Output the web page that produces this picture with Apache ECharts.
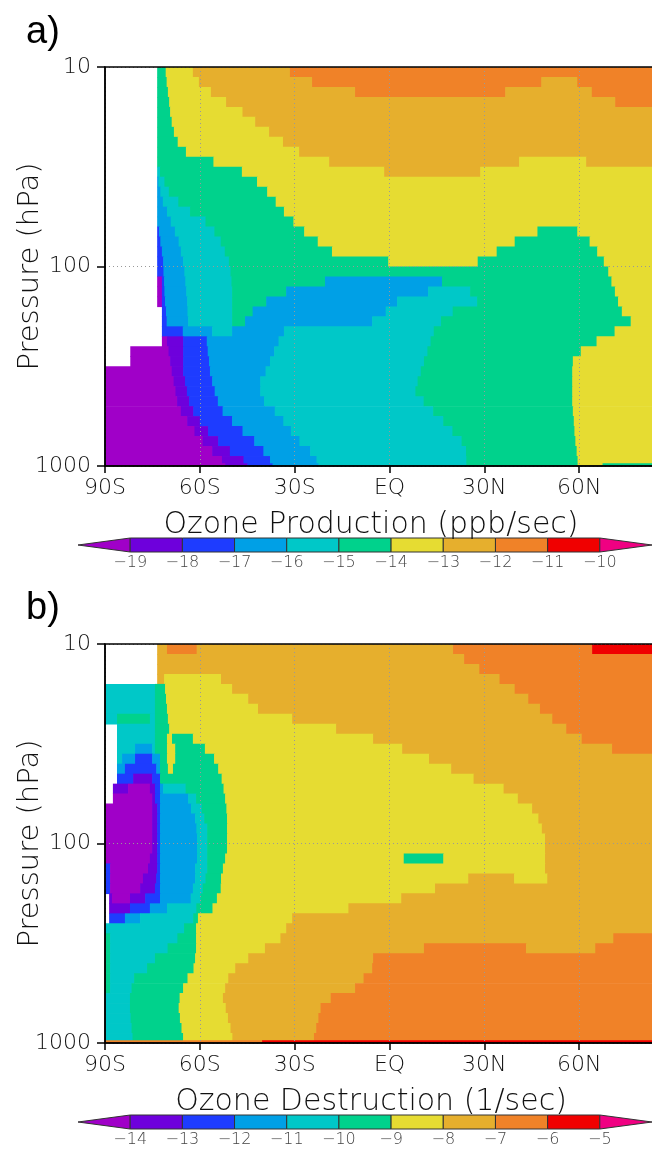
<!DOCTYPE html>
<html><head><meta charset="utf-8">
<script src="https://cdn.jsdelivr.net/npm/echarts@6/dist/echarts.min.js"></script>
<style>html,body{margin:0;padding:0;background:#fff}#c{width:652px;height:1151px}</style>
</head><body><div id="c"></div>
<script>
// pressure row edges (hPa), top to bottom
const pEdges = [10,11.22,12.59,14.13,15.85,17.78,19.95,22.39,25.12,28.18,31.62,35.48,39.81,44.67,50.12,56.23,63.1,70.79,79.43,89.13,100,112.2,125.9,141.3,158.5,177.8,199.5,223.9,251.2,281.8,316.2,354.8,398.1,446.7,501.2,562.3,631,707.9,794.3,891.3,970,1000];
const latTicks = [-90,-60,-30,0,30,60,90];
const latLabels = ['90S','60S','30S','EQ','30N','60N','90N'];
const bandColors = ['#a000c8','#6e00dc','#1e3cff','#00a0e6','#00c8c8','#00d28c','#e6dc32','#e6af2d','#f08228','#f00000','#f00082'];
const prodLevels = [-19,-18,-17,-16,-15,-14,-13,-12,-11,-10];
const destLevels = [-14,-13,-12,-11,-10,-9,-8,-7,-6,-5];

// each row: [latitude where a band starts, value (log10)] ; null = no data
const prodRows = [
[[-90,null],[-73.5,-14.5],[-70.8,-13.5],[-62.2,-12.5],[-31.5,-11.5]],
[[-90,null],[-73.5,-14.5],[-70.5,-13.5],[-60.3,-12.5],[-24.5,-11.5],[48,-12.5],[59.4,-11.5]],
[[-90,null],[-73.5,-14.5],[-70.1,-13.5],[-56.5,-12.5],[-10.9,-11.5],[36.6,-12.5],[64,-11.5]],
[[-90,null],[-73.5,-14.5],[-69.7,-13.5],[-51.7,-12.5],[71.4,-11.5]],
[[-90,null],[-73.5,-14.5],[-69.4,-13.5],[-46.5,-12.5]],
[[-90,null],[-73.5,-14.5],[-68.9,-13.5],[-42.5,-12.5]],
[[-90,null],[-73.5,-14.5],[-68.2,-13.5],[-38.1,-12.5]],
[[-90,null],[-73.5,-14.5],[-67,-13.5],[-33.7,-12.5]],
[[-90,null],[-73.5,-14.5],[-64.4,-13.5],[-28.6,-12.5]],
[[-90,null],[-73.5,-14.5],[-55.7,-13.5],[-19.1,-12.5],[41,-13.5],[62.2,-12.5]],
[[-90,null],[-73.5,-15.5],[-72.6,-14.5],[-46.7,-13.5],[-1.7,-12.5],[28.7,-13.5]],
[[-90,null],[-73.5,-16.5],[-73.1,-15.5],[-71.2,-14.5],[-41.9,-13.5]],
[[-90,null],[-73.5,-16.5],[-72.5,-15.5],[-69.8,-14.5],[-38.7,-13.5]],
[[-90,null],[-73.5,-16.5],[-71.7,-15.5],[-66.8,-14.5],[-36,-13.5]],
[[-90,null],[-73.5,-16.5],[-70.4,-15.5],[-63.1,-14.5],[-33.4,-13.5]],
[[-90,null],[-73.5,-16.5],[-69.2,-15.5],[-58.2,-14.5],[-30.4,-13.5]],
[[-90,null],[-73.5,-17.5],[-72.9,-16.5],[-67.9,-15.5],[-55.4,-14.5],[-27,-13.5],[46.8,-14.5],[59.4,-13.5]],
[[-90,null],[-73.5,-17.5],[-72.5,-16.5],[-66.7,-15.5],[-53.4,-14.5],[-22.7,-13.5],[39.6,-14.5],[63.3,-13.5]],
[[-90,null],[-73.5,-17.5],[-72,-16.5],[-66,-15.5],[-52.1,-14.5],[-18.2,-13.5],[33.9,-14.5],[65.7,-13.5]],
[[-90,null],[-73.5,-17.5],[-71.6,-16.5],[-65.3,-15.5],[-50.8,-14.5],[-0.4,-13.5],[27.9,-14.5],[67.8,-13.5]],
[[-90,null],[-73.5,-17.5],[-71.5,-16.5],[-64.9,-15.5],[-50.3,-14.5],[69.2,-13.5]],
[[-90,null],[-73.5,-19.5],[-72,-17.5],[-71.3,-16.5],[-64.6,-15.5],[-50,-14.5],[-20.4,-16.5],[16.6,-14.5],[70.2,-13.5]],
[[-90,null],[-73.5,-19.5],[-72,-17.5],[-71.2,-16.5],[-64.3,-15.5],[-49.8,-14.5],[-32.7,-16.5],[12.2,-15.5],[25.5,-14.5],[71.3,-13.5]],
[[-90,null],[-73.5,-19.5],[-72,-17.5],[-71,-16.5],[-64,-15.5],[-49.8,-14.5],[-39,-16.5],[2.4,-15.5],[27.7,-14.5],[72.3,-13.5]],
[[-90,null],[-72,-17.5],[-70.7,-16.5],[-63.9,-15.5],[-49.8,-14.5],[-43.3,-16.5],[-1.2,-15.5],[20,-14.5],[73.5,-13.5]],
[[-90,null],[-72,-17.5],[-70.5,-16.5],[-63.7,-15.5],[-49.8,-14.5],[-45.7,-16.5],[-5.5,-15.5],[16.3,-14.5],[76.3,-13.5]],
[[-90,null],[-72,-17.5],[-65.4,-16.5],[-56.1,-15.5],[-49.8,-16.5],[-33.4,-15.5],[14,-14.5],[71.2,-13.5]],
[[-90,null],[-72,-19.5],[-70.4,-18.5],[-65.3,-17.5],[-57.8,-16.5],[-35.1,-15.5],[13,-14.5],[65.5,-13.5]],
[[-90,null],[-82,-19.5],[-69.9,-18.5],[-65.3,-17.5],[-57.5,-16.5],[-36.5,-15.5],[12,-14.5],[60.5,-13.5]],
[[-90,null],[-82,-19.5],[-69.4,-18.5],[-65.3,-17.5],[-57.1,-16.5],[-37.8,-15.5],[10.9,-14.5],[58,-13.5]],
[[-90,-19.5],[-68.9,-18.5],[-65.3,-17.5],[-56.8,-16.5],[-39.2,-15.5],[9.9,-14.5],[57.8,-13.5]],
[[-90,-19.5],[-68.3,-18.5],[-64.7,-17.5],[-56.1,-16.5],[-40.9,-15.5],[8.9,-14.5],[57.8,-13.5]],
[[-90,-19.5],[-67.7,-18.5],[-64.1,-17.5],[-55.3,-16.5],[-40.9,-15.5],[8.2,-14.5],[57.8,-13.5]],
[[-90,-19.5],[-67.2,-18.5],[-63.4,-17.5],[-54.3,-16.5],[-39.7,-15.5],[10.8,-14.5],[57.8,-13.5]],
[[-90,-19.5],[-66,-18.5],[-62.1,-17.5],[-52.8,-16.5],[-36.3,-15.5],[13.8,-14.5],[58,-13.5]],
[[-90,-19.5],[-64,-18.5],[-60,-17.5],[-49.8,-16.5],[-33.6,-15.5],[17,-14.5],[58.3,-13.5]],
[[-90,-19.5],[-61.7,-18.5],[-57.4,-17.5],[-46.5,-16.5],[-31.2,-15.5],[19.9,-14.5],[58.5,-13.5]],
[[-90,-19.5],[-59.1,-18.5],[-54.2,-17.5],[-42.8,-16.5],[-28.5,-15.5],[22.8,-14.5],[58.8,-13.5]],
[[-90,-19.5],[-56.1,-18.5],[-50.5,-17.5],[-39.9,-16.5],[-25.1,-15.5],[24.2,-14.5],[59.2,-13.5]],
[[-90,-19.5],[-53,-18.5],[-46.2,-17.5],[-37.8,-16.5],[-23.1,-15.5],[24.3,-14.5],[59.5,-13.5]],
[[-90,-19.5],[-52,-18.5],[-45,-17.5],[-37,-16.5],[-22.5,-15.5],[24.3,-14.5],[59.5,-13.5],[67.4,-14.5]]
];

const destRows = [
[[-90,null],[-73.5,-7.5],[-70.4,-6.5],[-61,-7.5],[20.1,-6.5],[64.1,-5.5]],
[[-90,null],[-73.5,-7.5],[23.6,-6.5]],
[[-90,null],[-73.5,-7.5],[28.4,-6.5]],
[[-90,null],[-73.5,-7.5],[-71.3,-8.5],[-53.3,-7.5],[34.8,-6.5]],
[[-90,-10.5],[-74.2,-9.5],[-71,-8.5],[-49.8,-7.5],[39.6,-6.5]],
[[-90,-10.5],[-74.2,-9.5],[-70.7,-8.5],[-44.7,-7.5],[43.9,-6.5]],
[[-90,-10.5],[-74.2,-9.5],[-70.4,-8.5],[-41.6,-7.5],[47.6,-6.5]],
[[-90,-10.5],[-86.2,-9.5],[-75.8,-10.5],[-74.2,-9.5],[-70.1,-8.5],[-30.8,-7.5],[51.5,-6.5]],
[[-90,null],[-86.2,-10.5],[-74.2,-9.5],[-69.7,-8.5],[-16.9,-7.5],[55.9,-6.5]],
[[-90,null],[-86.2,-10.5],[-74.2,-9.5],[-70.4,-8.5],[-68.8,-9.5],[-62.2,-8.5],[-5.2,-7.5],[60.8,-6.5]],
[[-90,null],[-86.2,-10.5],[-80.5,-11.5],[-75.1,-10.5],[-74.2,-9.5],[-70.4,-8.5],[-67.8,-9.5],[-58.4,-8.5],[4,-7.5],[70.4,-6.5]],
[[-90,null],[-86.2,-10.5],[-84.6,-11.5],[-80.5,-12.5],[-75.1,-11.5],[-72.6,-9.5],[-70.4,-8.5],[-67.8,-9.5],[-55.5,-8.5],[12.5,-7.5]],
[[-90,null],[-86.2,-11.5],[-83.7,-12.5],[-73.8,-11.5],[-72.6,-9.5],[-70.1,-8.5],[-68.5,-9.5],[-54.2,-8.5],[19.5,-7.5]],
[[-90,null],[-86.2,-12.5],[-81.1,-13.5],[-75.1,-12.5],[-72.6,-9.5],[-53.1,-8.5],[26.6,-7.5]],
[[-90,null],[-87.5,-13.5],[-82.7,-14.5],[-75.8,-13.5],[-74.2,-12.5],[-72.6,-11.5],[-71.6,-10.5],[-64.5,-9.5],[-52.5,-8.5],[36.1,-7.5]],
[[-90,null],[-87.5,-14.5],[-75.1,-13.5],[-74.2,-12.5],[-72.6,-11.5],[-63.7,-10.5],[-61.2,-9.5],[-52,-8.5],[40.6,-7.5]],
[[-90,-14.5],[-75.1,-13.5],[-73.5,-12.5],[-72.6,-11.5],[-62.8,-10.5],[-59.4,-9.5],[-51.6,-8.5],[45.1,-7.5]],
[[-90,-14.5],[-75.1,-13.5],[-73.5,-12.5],[-72.6,-11.5],[-61.5,-10.5],[-58.6,-9.5],[-51.4,-8.5],[47.1,-7.5]],
[[-90,-14.5],[-75.1,-13.5],[-73.5,-12.5],[-72.6,-11.5],[-61.1,-10.5],[-57.7,-9.5],[-51.4,-8.5],[48.2,-7.5]],
[[-90,-14.5],[-75.1,-13.5],[-73.5,-12.5],[-72.6,-11.5],[-60.9,-10.5],[-57.7,-9.5],[-51.4,-8.5],[49.2,-7.5]],
[[-90,-14.5],[-75.1,-13.5],[-73.5,-12.5],[-72.6,-11.5],[-60.9,-10.5],[-57.7,-9.5],[-51.4,-8.5],[49.2,-7.5]],
[[-90,-14.5],[-75.8,-13.5],[-73.5,-12.5],[-72.6,-11.5],[-60.9,-10.5],[-57.7,-9.5],[-52,-8.5],[4.5,-9.5],[17,-8.5],[49.2,-7.5]],
[[-90,-12.5],[-88.4,-14.5],[-76.4,-13.5],[-73.5,-12.5],[-72.6,-11.5],[-61.5,-10.5],[-57.7,-9.5],[-52.7,-8.5],[49.2,-7.5]],
[[-90,-12.5],[-88.4,-14.5],[-78,-13.5],[-73.8,-12.5],[-72.6,-11.5],[-61.5,-10.5],[-58.2,-9.5],[-53.3,-8.5],[24.9,-7.5],[39.4,-8.5],[49.9,-7.5]],
[[-90,-12.5],[-88.4,-14.5],[-78.9,-13.5],[-74.2,-12.5],[-72.6,-11.5],[-62.2,-10.5],[-59.1,-9.5],[-53.4,-8.5],[14.4,-7.5]],
[[-90,null],[-88.7,-13.5],[-87.8,-14.5],[-82.1,-13.5],[-77.3,-12.5],[-72.6,-11.5],[-62.9,-10.5],[-59.8,-9.5],[-54.6,-8.5],[3.7,-7.5]],
[[-90,null],[-88.7,-13.5],[-82.1,-12.5],[-75.8,-11.5],[-70.4,-10.5],[-61.1,-9.5],[-56,-8.5],[-13,-7.5]],
[[-90,null],[-88.7,-12.5],[-83.7,-11.5],[-78.9,-10.5],[-62.1,-9.5],[-60.6,-8.5],[-30.8,-7.5]],
[[-90,-10.5],[-65,-9.5],[-61.2,-8.5],[-32.7,-7.5]],
[[-90,-9.5],[-88.4,-10.5],[-67.1,-9.5],[-61.2,-8.5],[-34.5,-7.5],[70.8,-6.5]],
[[-90,-9.5],[-88.4,-10.5],[-70.2,-9.5],[-61.2,-8.5],[-39.4,-7.5],[10.9,-6.5],[43.2,-7.5],[65.1,-6.5]],
[[-90,-9.5],[-88.4,-10.5],[-74.2,-9.5],[-61.5,-8.5],[-44.7,-7.5],[-5.2,-6.5]],
[[-90,-9.5],[-88.4,-10.5],[-76.7,-9.5],[-62,-8.5],[-48.8,-7.5],[-5.5,-6.5]],
[[-90,-9.5],[-88.4,-10.5],[-80.8,-9.5],[-63.9,-8.5],[-51,-7.5],[-8.2,-6.5]],
[[-90,-9.5],[-88.4,-10.5],[-81.6,-9.5],[-65.3,-8.5],[-52,-7.5],[-10.9,-6.5]],
[[-90,-10.5],[-82.1,-9.5],[-66.4,-8.5],[-52.7,-7.5],[-18.6,-6.5]],
[[-90,-10.5],[-82.1,-9.5],[-66.7,-8.5],[-51.8,-7.5],[-21.8,-6.5]],
[[-90,-10.5],[-81.9,-9.5],[-66.3,-8.5],[-51.1,-7.5],[-22.5,-6.5]],
[[-90,-10.5],[-81.6,-9.5],[-65.8,-8.5],[-50.3,-7.5],[-23.2,-6.5]],
[[-90,-10.5],[-81.3,-9.5],[-65.3,-8.5],[-49.7,-7.5],[-23.9,-6.5]],
[[-90,-6.5],[-40.3,-5.5]]
];

function cells(rows){
  const out=[];
  rows.forEach((row,i)=>{
    for(let k=0;k<row.length;k++){
      const v=row[k][1]; if(v===null) continue;
      const hi = k+1<row.length ? row[k+1][0] : 90;
      out.push([row[k][0], hi, pEdges[i], pEdges[i+1], v]);
    }
  });
  return out;
}
function barItems(levels){
  const out=[]; const n=levels.length;
  for(let k=0;k<=n;k++){
    const lo = k===0 ? levels[0]-1 : levels[k-1];
    const hi = k===n ? levels[n-1]+1 : levels[k];
    out.push([lo, hi, 0, 1, (lo+hi)/2, k===0?0:(k===n?2:1)]);
  }
  return out;
}
function pieces(levels){
  const p=[{lt:levels[0], color:bandColors[0]}];
  for(let k=1;k<levels.length;k++) p.push({gte:levels[k-1], lt:levels[k], color:bandColors[k]});
  p.push({gte:levels[levels.length-1], color:bandColors[levels.length]});
  return p;
}
function renderCell(params, api){
  const a=api.coord([api.value(0), api.value(2)]);
  const b=api.coord([api.value(1), api.value(3)]);
  return {type:'rect', shape:{x:a[0], y:a[1], width:b[0]-a[0]+0.7, height:b[1]-a[1]+0.7}, style:{fill:api.visual('color')}};
}
function renderBar(params, api){
  const p0=api.coord([api.value(0),1]), p1=api.coord([api.value(1),0]);
  const s=api.value(5);
  const style={fill:api.visual('color'), stroke:'#333', lineWidth:1};
  if(s===1) return {type:'rect', shape:{x:p0[0],y:p0[1],width:p1[0]-p0[0],height:p1[1]-p0[1]}, style};
  const my=(p0[1]+p1[1])/2;
  if(s===0) return {type:'polygon', shape:{points:[[p0[0],my],[p1[0],p0[1]],[p1[0],p1[1]]]}, style};
  return {type:'polygon', shape:{points:[[p0[0],p0[1]],[p1[0],my],[p0[0],p1[1]]]}, style};
}

const FF='"DejaVu Sans", sans-serif';
const FW=200;
function latAxis(idx, name){
  return {gridIndex:idx, type:'value', min:-90, max:90, interval:30, z:5,
    axisLine:{onZero:false, lineStyle:{color:'#000', width:1.5}},
    axisTick:{inside:false, length:7, lineStyle:{color:'#000', width:1.5}},
    axisLabel:{fontFamily:FF, fontWeight:FW, fontSize:22, color:'#111', margin:11, showMinLabel:true,
      formatter:v=>{const i=latTicks.indexOf(v); return i<0?'':latLabels[i];}},
    splitLine:{show:true, lineStyle:{color:'#999', type:[1,3], width:1}},
    name:name, nameLocation:'middle', nameGap:44, nameMoveOverlap:false,
    nameTextStyle:{fontFamily:FF, fontWeight:FW, fontSize:30, color:'#111', padding:[0,37,0,0]}};
}
function pAxis(idx){
  return {gridIndex:idx, type:'log', logBase:10, min:10, max:1000, inverse:true, z:5,
    axisLine:{onZero:false, lineStyle:{color:'#000', width:1.5}},
    axisTick:{inside:false, length:8, lineStyle:{color:'#000', width:1.5}},
    axisLabel:{fontFamily:FF, fontWeight:FW, fontSize:22, color:'#111', margin:14, formatter:v=>String(Math.round(v))},
    splitLine:{show:true, lineStyle:{color:'#999', type:[1,3], width:1}},
    minorTick:{show:false},
    name:'Pressure (hPa)', nameLocation:'middle', nameGap:60, nameRotate:90, nameMoveOverlap:false,
    nameTextStyle:{fontFamily:FF, fontWeight:FW, fontSize:29, color:'#111'}};
}
function barXAxis(idx, levels){
  const lo=levels[0]-1, hi=levels[levels.length-1]+1;
  return {gridIndex:idx, type:'value', min:lo, max:hi, interval:1,
    axisLine:{show:false}, axisTick:{show:false}, splitLine:{show:false},
    axisLabel:{fontFamily:FF, fontWeight:FW, fontSize:16, color:'#444', margin:3, interval:0, showMinLabel:true, showMaxLabel:true,
      formatter:v=>(levels.indexOf(v)<0?'':'\u2212'+Math.abs(v))}};
}
function barYAxis(idx){
  return {gridIndex:idx, type:'value', min:0, max:1, show:false};
}

const chart=echarts.init(document.getElementById('c'), null, {renderer:'canvas'});
chart.setOption({
  animation:false,
  backgroundColor:'#fff',
  graphic:[
    {type:'text', left:26, top:14, style:{text:'a)', font:'38px "Liberation Sans", sans-serif', fill:'#000'}},
    {type:'text', left:26, top:590, style:{text:'b)', font:'38px "Liberation Sans", sans-serif', fill:'#000'}}
  ],
  grid:[
    {left:105, top:67, width:569, height:399, show:true, borderColor:'#000', borderWidth:1.5, backgroundColor:'transparent', z:10, outerBoundsMode:'none', containLabel:false},
    {left:105, top:644, width:569, height:399, show:true, borderColor:'#000', borderWidth:1.5, backgroundColor:'transparent', z:10, outerBoundsMode:'none', containLabel:false},
    {left:78, top:538, width:574, height:14, outerBoundsMode:'none', containLabel:false},
    {left:78, top:1115, width:574, height:14, outerBoundsMode:'none', containLabel:false}
  ],
  xAxis:[latAxis(0,'Ozone Production (ppb/sec)'), latAxis(1,'Ozone Destruction (1/sec)'), barXAxis(2,prodLevels), barXAxis(3,destLevels)],
  yAxis:[pAxis(0), pAxis(1), barYAxis(2), barYAxis(3)],
  visualMap:[
    {type:'piecewise', show:false, seriesIndex:[0,2], dimension:4, pieces:pieces(prodLevels)},
    {type:'piecewise', show:false, seriesIndex:[1,3], dimension:4, pieces:pieces(destLevels)}
  ],
  series:[
    {type:'custom', xAxisIndex:0, yAxisIndex:0, renderItem:renderCell, encode:{x:[0,1], y:[2,3]}, data:cells(prodRows), clip:true, silent:true},
    {type:'custom', xAxisIndex:1, yAxisIndex:1, renderItem:renderCell, encode:{x:[0,1], y:[2,3]}, data:cells(destRows), clip:true, silent:true},
    {type:'custom', xAxisIndex:2, yAxisIndex:2, renderItem:renderBar, encode:{x:[0,1], y:[2,3]}, data:barItems(prodLevels), silent:true},
    {type:'custom', xAxisIndex:3, yAxisIndex:3, renderItem:renderBar, encode:{x:[0,1], y:[2,3]}, data:barItems(destLevels), silent:true}
  ]
});
</script></body></html>
